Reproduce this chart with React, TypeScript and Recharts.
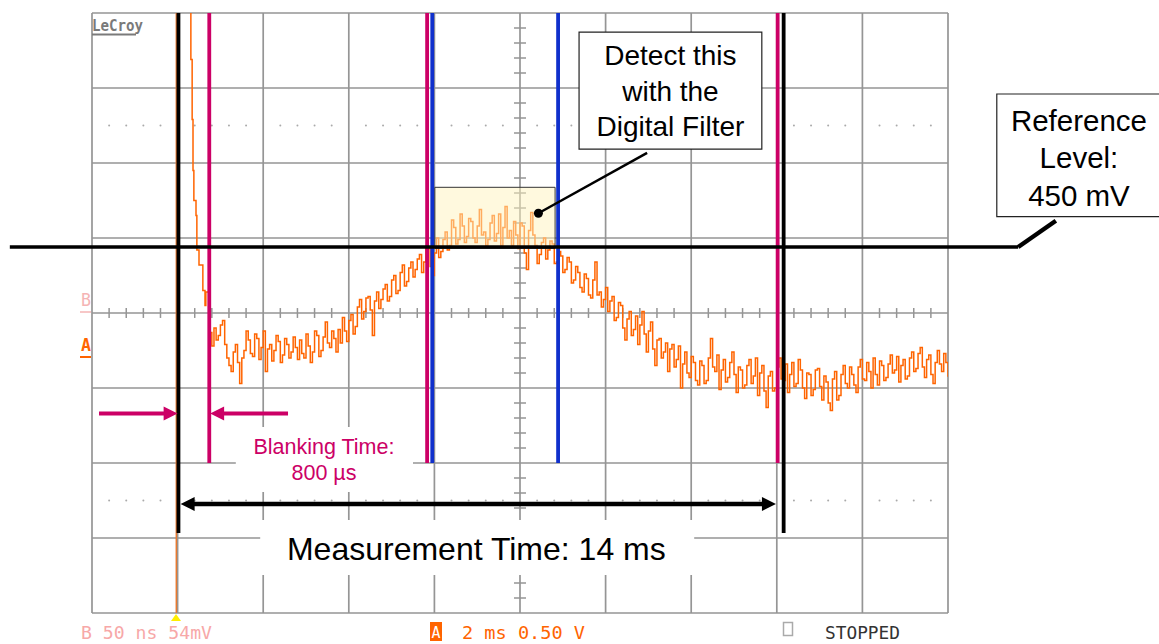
import React from "react";
import {
  ComposedChart,
  Line,
  ReferenceArea,
  ReferenceDot,
  ReferenceLine,
  XAxis,
  YAxis,
} from "recharts";

// scope screen: 2 ms/div horizontally, 0.5 V/div vertically
const gridMs = [0, 2, 4, 6, 8, 10, 12, 14, 16, 18, 20];
const gridV = [-2, -1.5, -1, -0.5, 0, 0.5, 1, 1.5, 2];

// fast decay right after the trigger (ms, V)
const decayMs = [2.27, 2.31, 2.34, 2.36, 2.38, 2.43, 2.45, 2.5, 2.59, 2.64, 2.66];
const decayV = [2.35, 1.69, 1.29, 0.95, 0.75, 0.65, 0.42, 0.32, 0.15, 0.05, 0.14];

// noisy trace, one reading every 0.05 ms from 2.75 ms
const sampleStartMs = 2.75;
const sampleStepMs = 0.05;
const sampleV = [
  -0.13, -0.22, -0.1, -0.18, -0.15, -0.08, -0.05, -0.21, -0.3, -0.35, -0.39, -0.26, -0.21, -0.33, -0.47, -0.3, -0.25, -0.12, -0.18, -0.27,
  -0.29, -0.14, -0.17, -0.31, -0.23, -0.12, -0.39, -0.24, -0.21, -0.32, -0.25, -0.15, -0.19, -0.33, -0.28, -0.17, -0.21, -0.3, -0.26, -0.16,
  -0.23, -0.31, -0.18, -0.27, -0.3, -0.14, -0.22, -0.33, -0.26, -0.12, -0.15, -0.29, -0.25, -0.16, -0.06, -0.2, -0.23, -0.12, -0.17, -0.26,
  -0.11, -0.2, -0.03, -0.12, -0.19, -0.05, -0.01, -0.14, -0.09, 0.04, 0.09, -0.04, 0.01, 0.1, 0.11, 0.02, -0.15, 0.08, 0.14, 0.03,
  0.09, 0.16, 0.19, 0.08, 0.11, 0.22, 0.25, 0.13, 0.15, 0.27, 0.32, 0.18, 0.21, 0.3, 0.34, 0.24, 0.29, 0.36, 0.39, 0.27,
  0.34, 0.44, 0.43, 0.31, 0.25, 0.4, 0.5, 0.37, 0.41, 0.49, 0.54, 0.42, 0.45, 0.62, 0.57, 0.46, 0.49, 0.66, 0.58, 0.47,
  0.51, 0.63, 0.61, 0.5, 0.47, 0.58, 0.69, 0.52, 0.54, 0.45, 0.49, 0.6, 0.65, 0.48, 0.53, 0.66, 0.45, 0.57, 0.71, 0.5,
  0.55, 0.45, 0.61, 0.52, 0.43, 0.6, 0.58, 0.4, 0.29, 0.55, 0.67, 0.52, 0.45, 0.33, 0.39, 0.47, 0.5, 0.36, 0.42, 0.48,
  0.46, 0.33, 0.34, 0.41, 0.38, 0.27, 0.29, 0.37, 0.34, 0.2, 0.22, 0.31, 0.27, 0.17, 0.14, 0.26, 0.23, 0.12, 0.1, 0.22,
  0.34, 0.12, 0.14, 0.04, 0.09, 0.17, 0.01, 0.08, 0.11, -0.05, -0.03, 0.07, 0.05, -0.1, -0.18, -0.04, 0.01, -0.15, -0.11, -0.02,
  -0.21, -0.08, 0.01, -0.14, -0.26, -0.12, -0.06, -0.24, -0.35, -0.18, -0.17, -0.3, -0.26, -0.2, -0.39, -0.24, -0.21, -0.36, -0.31, -0.22,
  -0.5, -0.34, -0.26, -0.4, -0.43, -0.29, -0.33, -0.45, -0.48, -0.32, -0.35, -0.47, -0.45, -0.3, -0.17, -0.36, -0.39, -0.28, -0.51, -0.38,
  -0.31, -0.46, -0.43, -0.33, -0.26, -0.41, -0.53, -0.36, -0.38, -0.5, -0.48, -0.35, -0.31, -0.47, -0.42, -0.3, -0.55, -0.4, -0.35, -0.52,
  -0.63, -0.42, -0.39, -0.52, -0.5, -0.36, -0.3, -0.44, -0.45, -0.34, -0.53, -0.41, -0.33, -0.49, -0.47, -0.31, -0.38, -0.5, -0.57, -0.4,
  -0.41, -0.55, -0.51, -0.38, -0.37, -0.49, -0.58, -0.42, -0.46, -0.6, -0.65, -0.44, -0.39, -0.58, -0.55, -0.41, -0.35, -0.47, -0.5, -0.36,
  -0.41, -0.48, -0.53, -0.36, -0.31, -0.44, -0.45, -0.33, -0.39, -0.5, -0.3, -0.41, -0.48, -0.32, -0.35, -0.45, -0.43, -0.34, -0.28, -0.4,
  -0.38, -0.29, -0.46, -0.35, -0.31, -0.44, -0.42, -0.3, -0.26, -0.39, -0.37, -0.27, -0.23, -0.36, -0.43, -0.31, -0.28, -0.41, -0.47, -0.33,
  -0.25, -0.34, -0.39, -0.27, -0.33, -0.42, -0.37,
];

// markers (ms / V)
const chBTraceMs = 1.97;
const measureStartMs = 2.02;
const blankingEndMs = 2.74;
const windowEarlyMs = 7.83;
const windowStartMs = 7.95;
const windowEndMs = 10.89;
const measureEndMs = 16.02;
const stopMs = 16.16;
const referenceLevelV = 0.44;

const traceData = [
  ...decayMs.map((t, i) => ({ t, v: decayV[i] })),
  ...sampleV.map((v, i) => ({ t: +(sampleStartMs + i * sampleStepMs).toFixed(2), v })),
];

const minorMs = Array.from({ length: 49 }, (_, i) => +((i + 1) * 0.4).toFixed(1)).filter(
  (t) => Math.abs(t / 2 - Math.round(t / 2)) > 1e-6
);
const minorV = Array.from({ length: 39 }, (_, i) => +(-1.9 + i * 0.1).toFixed(1)).filter(
  (v) => Math.abs(v * 2 - Math.round(v * 2)) > 1e-6
);

const GRID = "#959595";
const ORANGE = "#FF6400";
const MAGENTA = "#CC0066";
const BLUE = "#1030CC";
const SANS = "'Liberation Sans', Arial, sans-serif";
const MONO = "'DejaVu Sans Mono', monospace";

const arrowHead = (dir: number, color: string) => (p: any) => (
  <polygon
    points={`${p.cx},${p.cy} ${p.cx - dir * 14},${p.cy - 7} ${p.cx - dir * 14},${p.cy + 7}`}
    fill={color}
  />
);

const textBlock = (lines: string[], size: number, gap: number, color: string) => (p: any) => (
  <text textAnchor="middle" fontFamily={SANS} fontSize={size} fill={color}>
    {lines.map((l, i) => (
      <tspan key={i} x={p.cx} y={p.cy + (i - (lines.length - 1) / 2) * gap + size * 0.36}>
        {l}
      </tspan>
    ))}
  </text>
);

const noDot = { r: 1, fill: "none", stroke: "none", ifOverflow: "visible" as const };

export default function App() {
  return (
    <div style={{ position: "absolute", left: 0, top: 0, width: 1159, height: 644, background: "#fff" }}>
      <ComposedChart
        width={1159}
        height={644}
        data={traceData}
        margin={{ top: 13, right: 211, bottom: 31, left: 92 }}
      >
        <XAxis dataKey="t" type="number" domain={[0, 20]} hide allowDataOverflow />
        <YAxis type="number" domain={[-2, 2]} hide allowDataOverflow />

        {/* graticule */}
        {gridMs.map((t) => (
          <ReferenceLine key={`gx${t}`} segment={[{ x: t, y: -2 }, { x: t, y: 2 }]} stroke={GRID} strokeWidth={1.7} zIndex={5} />
        ))}
        {gridV.map((v) => (
          <ReferenceLine key={`gy${v}`} segment={[{ x: 0, y: v }, { x: 20, y: v }]} stroke={GRID} strokeWidth={1.7} zIndex={5} />
        ))}
        {minorMs.map((t) => (
          <ReferenceLine key={`hx${t}`} segment={[{ x: t, y: -0.033 }, { x: t, y: 0.033 }]} stroke={GRID} strokeWidth={1.5} zIndex={10} />
        ))}
        {minorV.map((v) => (
          <ReferenceLine key={`vy${v}`} segment={[{ x: 9.86, y: v }, { x: 10.14, y: v }]} stroke={GRID} strokeWidth={1.5} zIndex={10} />
        ))}
        {minorMs.map((t) => (
          <ReferenceDot key={`du${t}`} x={t} y={1.25} r={1} fill="#aaa" stroke="none" zIndex={10} />
        ))}
        {minorMs.map((t) => (
          <ReferenceDot key={`dd${t}`} x={t} y={-1.25} r={1} fill="#aaa" stroke="none" zIndex={10} />
        ))}

        {/* white label backgrounds */}
        <ReferenceArea x1={3.36} x2={7.5} y1={-1.193} y2={-0.76} fill="#fff" fillOpacity={1} stroke="none" zIndex={20} />
        <ReferenceArea x1={3.93} x2={14.07} y1={-1.747} y2={-1.38} fill="#fff" fillOpacity={1} stroke="none" zIndex={20} />

        <ReferenceLine segment={[{ x: chBTraceMs, y: 2 }, { x: chBTraceMs, y: -2 }]} stroke="#E87A30" strokeWidth={1.5} zIndex={390} />

        <Line
          dataKey="v"
          type="stepAfter"
          stroke={ORANGE}
          strokeWidth={1.5}
          dot={false}
          activeDot={false}
          isAnimationActive={false}
        />

        <ReferenceArea x1={8.01} x2={10.82} y1={0.431} y2={0.838} fill="#FFF4BE" fillOpacity={0.5} stroke="#333" strokeWidth={1} zIndex={450} />

        {/* cursors */}
        <ReferenceLine segment={[{ x: measureStartMs, y: 2 }, { x: measureStartMs, y: -1.467 }]} stroke="#000" strokeWidth={3.8} zIndex={500} />
        <ReferenceLine segment={[{ x: blankingEndMs, y: 2 }, { x: blankingEndMs, y: -1 }]} stroke={MAGENTA} strokeWidth={3.8} zIndex={500} />
        <ReferenceLine segment={[{ x: windowEarlyMs, y: 2 }, { x: windowEarlyMs, y: -1 }]} stroke={MAGENTA} strokeWidth={3.8} zIndex={500} />
        <ReferenceLine segment={[{ x: windowStartMs, y: 2 }, { x: windowStartMs, y: -1 }]} stroke={BLUE} strokeWidth={3.8} zIndex={500} />
        <ReferenceLine segment={[{ x: windowEndMs, y: 2 }, { x: windowEndMs, y: -1 }]} stroke={BLUE} strokeWidth={3.8} zIndex={500} />
        <ReferenceLine segment={[{ x: measureEndMs, y: 2 }, { x: measureEndMs, y: -1 }]} stroke={MAGENTA} strokeWidth={3.8} zIndex={500} />
        <ReferenceLine segment={[{ x: stopMs, y: 2 }, { x: stopMs, y: -1.467 }]} stroke="#000" strokeWidth={3.8} zIndex={500} />

        {/* reference level */}
        <ReferenceLine segment={[{ x: -1.92, y: referenceLevelV }, { x: 21.64, y: referenceLevelV }]} stroke="#000" strokeWidth={3.5} ifOverflow="visible" zIndex={550} />
        <ReferenceLine segment={[{ x: 21.64, y: referenceLevelV }, { x: 22.52, y: 0.615 }]} stroke="#000" strokeWidth={4.5} ifOverflow="visible" zIndex={550} />

        {/* blanking arrows */}
        <ReferenceLine segment={[{ x: 0.164, y: -0.67 }, { x: 1.7, y: -0.67 }]} stroke={MAGENTA} strokeWidth={4} zIndex={550} />
        <ReferenceDot x={2.0} y={-0.67} r={1} shape={arrowHead(1, MAGENTA)} zIndex={600} />
        <ReferenceLine segment={[{ x: 4.58, y: -0.67 }, { x: 3.05, y: -0.67 }]} stroke={MAGENTA} strokeWidth={4} zIndex={550} />
        <ReferenceDot x={2.76} y={-0.67} r={1} shape={arrowHead(-1, MAGENTA)} zIndex={600} />

        {/* measurement arrow */}
        <ReferenceLine segment={[{ x: 2.3, y: -1.273 }, { x: 15.75, y: -1.273 }]} stroke="#000" strokeWidth={4.5} zIndex={550} />
        <ReferenceDot x={2.07} y={-1.273} r={1} shape={arrowHead(-1, "#000")} zIndex={600} />
        <ReferenceDot x={15.98} y={-1.273} r={1} shape={arrowHead(1, "#000")} zIndex={600} />

        {/* callouts */}
        <ReferenceArea x1={11.38} x2={15.65} y1={1.093} y2={1.873} fill="#fff" fillOpacity={1} stroke="#222" strokeWidth={1.2} zIndex={560} />
        <ReferenceLine segment={[{ x: 12.97, y: 1.067 }, { x: 10.43, y: 0.665 }]} stroke="#000" strokeWidth={2.5} zIndex={560} />
        <ReferenceDot x={10.43} y={0.665} r={4.5} fill="#000" stroke="none" zIndex={600} />
        <ReferenceArea x1={21.14} x2={25.2} y1={0.642} y2={1.46} fill="#fff" fillOpacity={1} stroke="#222" strokeWidth={1.2} ifOverflow="visible" zIndex={560} />

        <ReferenceDot x={13.515} y={1.483} {...noDot} shape={textBlock(["Detect this", "with the", "Digital Filter"], 28, 35.5, "#000")} zIndex={700} />
        <ReferenceDot x={23.06} y={1.037} {...noDot} shape={textBlock(["Reference", "Level:", "450 mV"], 29.5, 37.5, "#000")} zIndex={700} />
        <ReferenceDot x={5.42} y={-0.977} {...noDot} shape={textBlock(["Blanking Time:", "800 µs"], 21.5, 26, MAGENTA)} zIndex={700} />
        <ReferenceDot x={8.98} y={-1.567} {...noDot} shape={textBlock(["Measurement Time: 14 ms"], 32, 0, "#000")} zIndex={700} />
      </ComposedChart>

      {/* scope screen chrome */}
      <svg width={1159} height={644} style={{ position: "absolute", left: 0, top: 0, pointerEvents: "none" }}>
        <text x={92} y={31} fontFamily={MONO} fontWeight="bold" fontSize={15} fill="#7a7a7a" textLength={51} lengthAdjust="spacingAndGlyphs">
          LeCroy
        </text>
        <line x1={92} x2={136} y1={34.5} y2={34.5} stroke="#7a7a7a" strokeWidth={2} />
        <text x={81} y={306} fontFamily={MONO} fontSize={18} fill="#F5B4B4" textLength={10} lengthAdjust="spacingAndGlyphs">
          B
        </text>
        <line x1={80} x2={91} y1={312} y2={312} stroke="#F5B4B4" strokeWidth={1.5} />
        <text x={81} y={351} fontFamily={MONO} fontWeight="bold" fontSize={18} fill={ORANGE} textLength={10} lengthAdjust="spacingAndGlyphs">
          A
        </text>
        <line x1={80} x2={91} y1={357} y2={357} stroke={ORANGE} strokeWidth={2} />
        <polygon points="176,614 171,621 181,621" fill="#FFEE00" />
        <text x={81} y={639} fontFamily={MONO} fontSize={17} fill="#F7A8A8" textLength={131} lengthAdjust="spacingAndGlyphs">
          B 50 ns 54mV
        </text>
        <rect x={430} y={622} width={12} height={19} fill={ORANGE} />
        <text x={431.5} y={638} fontFamily={MONO} fontSize={16} fill="#fff" textLength={9} lengthAdjust="spacingAndGlyphs">
          A
        </text>
        <text x={462} y={639} fontFamily={MONO} fontSize={17} fill={ORANGE} textLength={123} lengthAdjust="spacingAndGlyphs">
          2 ms 0.50 V
        </text>
        <rect x={783.5} y={622.5} width={9} height={13} fill="none" stroke="#aaa" strokeWidth={1.5} />
        <text x={825} y={639} fontFamily={MONO} fontSize={17} fill="#333" textLength={75} lengthAdjust="spacingAndGlyphs">
          STOPPED
        </text>
      </svg>
    </div>
  );
}
